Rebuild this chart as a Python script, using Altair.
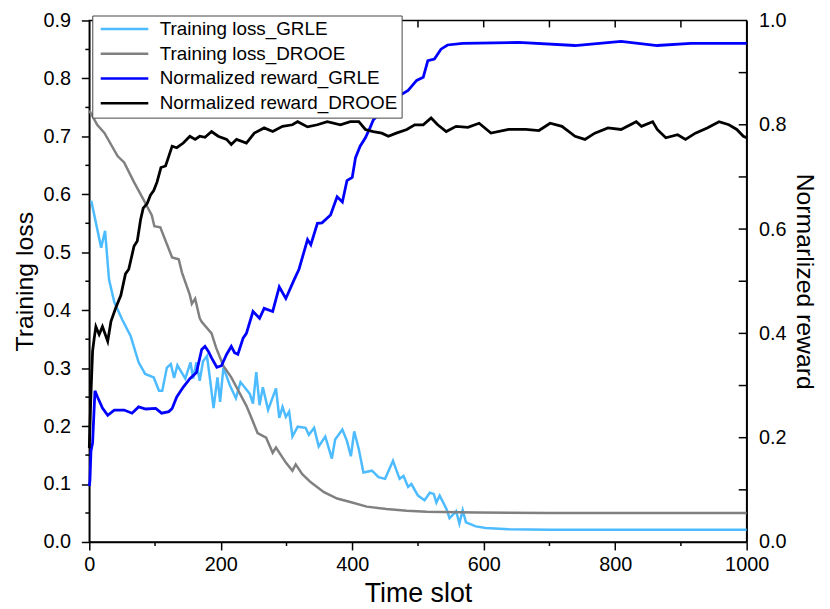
import altair as alt
import pandas as pd

# ---------------- data ----------------
t_loss_grle = [3, 18, 24, 30, 38, 50, 63, 75, 85, 98, 106, 111, 118, 124, 129, 134, 146, 154, 158, 163,
               168, 173, 179, 184, 189, 195, 199, 204, 214, 223, 230, 244, 249, 254, 259, 264, 272, 284,
               289, 294, 299, 304, 309, 317, 329, 334, 342, 349, 359, 369, 374, 385, 392, 398, 403, 410,
               417, 430, 440, 450, 462, 472, 478, 485, 490, 500, 510, 518, 524, 528, 533, 543, 548, 558,
               563, 568, 573, 588, 603, 638, 700, 800, 900, 1000]
loss_grle = [0.589, 0.508, 0.537, 0.453, 0.414, 0.384, 0.355, 0.310, 0.290, 0.284, 0.261, 0.261, 0.301,
             0.307, 0.283, 0.305, 0.282, 0.310, 0.282, 0.310, 0.278, 0.312, 0.321, 0.278, 0.231, 0.284,
             0.242, 0.301, 0.270, 0.248, 0.276, 0.256, 0.239, 0.293, 0.236, 0.267, 0.228, 0.265, 0.214,
             0.233, 0.216, 0.225, 0.182, 0.199, 0.197, 0.185, 0.197, 0.165, 0.182, 0.144, 0.177, 0.194,
             0.174, 0.148, 0.191, 0.160, 0.120, 0.123, 0.112, 0.109, 0.140, 0.109, 0.114, 0.095, 0.100,
             0.080, 0.072, 0.085, 0.083, 0.068, 0.080, 0.058, 0.041, 0.053, 0.032, 0.055, 0.034, 0.027,
             0.024, 0.022, 0.021, 0.021, 0.021, 0.021]

t_loss_drooe = [0, 12, 23, 43, 53, 68, 80, 88, 95, 99, 108, 116, 126, 136, 141, 153, 156, 161, 168, 171,
                186, 193, 204, 216, 224, 239, 246, 256, 269, 279, 284, 299, 309, 314, 324, 337, 357, 377,
                397, 422, 452, 483, 513, 588, 700, 850, 1000]
loss_drooe = [0.745, 0.720, 0.706, 0.666, 0.655, 0.621, 0.596, 0.579, 0.564, 0.545, 0.543, 0.520, 0.491,
              0.488, 0.465, 0.426, 0.411, 0.420, 0.386, 0.380, 0.360, 0.335, 0.304, 0.284, 0.267, 0.235,
              0.216, 0.188, 0.180, 0.154, 0.163, 0.137, 0.123, 0.134, 0.117, 0.103, 0.086, 0.075, 0.069,
              0.061, 0.057, 0.054, 0.052, 0.051, 0.050, 0.050, 0.050]

t_rew_grle = [0, 1, 2.5, 5, 8.6, 12.5, 20, 28, 38, 53, 65, 75, 86, 101, 110, 121, 126, 133, 143, 153, 163,
              171, 176, 181, 186, 194, 201, 209, 216, 221, 226, 234, 239, 249, 259, 266, 279, 289, 299,
              312, 319, 332, 337, 347, 354, 367, 377, 385, 392, 400, 405, 412, 420, 427, 432, 452, 472,
              485, 498, 508, 515, 525, 535, 545, 568, 653, 739, 809, 864, 915, 1000]
rew_grle = [0.107, 0.118, 0.174, 0.190, 0.290, 0.278, 0.257, 0.243, 0.253, 0.253, 0.247, 0.259, 0.255,
            0.256, 0.247, 0.250, 0.256, 0.278, 0.297, 0.313, 0.325, 0.369, 0.375, 0.366, 0.353, 0.335,
            0.338, 0.360, 0.375, 0.363, 0.360, 0.391, 0.400, 0.442, 0.429, 0.448, 0.442, 0.489, 0.467,
            0.504, 0.523, 0.580, 0.570, 0.611, 0.612, 0.627, 0.662, 0.652, 0.693, 0.699, 0.737, 0.759,
            0.775, 0.794, 0.809, 0.835, 0.856, 0.866, 0.885, 0.891, 0.923, 0.926, 0.945, 0.953, 0.956,
            0.958, 0.952, 0.960, 0.952, 0.956, 0.956]

t_rew_drooe = [0, 2.5, 5, 7.5, 10, 15, 20, 28, 33, 40, 48, 55, 60, 68, 73, 78, 82, 88, 93, 98, 103, 109,
               116, 121, 126, 133, 143, 153, 161, 168, 176, 186, 196, 209, 216, 224, 239, 251, 266, 279,
               294, 309, 317, 332, 347, 362, 382, 397, 410, 420, 432, 445, 455, 467, 483, 495, 508, 520,
               530, 543, 558, 576, 593, 611, 638, 664, 684, 701, 719, 739, 754, 769, 789, 809, 832, 840,
               857, 864, 877, 895, 907, 922, 940, 958, 973, 985, 995, 1000]
rew_drooe = [0.180, 0.285, 0.366, 0.391, 0.413, 0.398, 0.413, 0.385, 0.423, 0.448, 0.473, 0.514, 0.523,
             0.567, 0.577, 0.618, 0.640, 0.649, 0.665, 0.674, 0.690, 0.718, 0.721, 0.740, 0.759, 0.756,
             0.765, 0.778, 0.772, 0.778, 0.776, 0.787, 0.778, 0.772, 0.762, 0.772, 0.765, 0.784, 0.794,
             0.787, 0.797, 0.800, 0.806, 0.796, 0.800, 0.806, 0.800, 0.806, 0.806, 0.791, 0.787, 0.784,
             0.778, 0.784, 0.791, 0.800, 0.800, 0.813, 0.800, 0.787, 0.797, 0.795, 0.803, 0.784, 0.791,
             0.791, 0.789, 0.803, 0.797, 0.778, 0.772, 0.784, 0.794, 0.791, 0.806, 0.797, 0.806, 0.791,
             0.775, 0.781, 0.772, 0.784, 0.794, 0.806, 0.800, 0.791, 0.778, 0.775]

series_names = ["Training loss_GRLE", "Training loss_DROOE",
                "Normalized reward_GRLE", "Normalized reward_DROOE"]
series_colors = ["#4DBBFF", "#808080", "#0000FF", "#000000"]

x_ticks = [0, 200, 400, 600, 800, 1000]
x_minor = [100, 300, 500, 700, 900]
x_top = [100, 200, 300, 400, 500, 600, 700, 800, 900]
left_ticks = [0.0, 0.1, 0.2, 0.3, 0.4, 0.5, 0.6, 0.7, 0.8, 0.9]
left_minor = [0.05, 0.15, 0.25, 0.35, 0.45, 0.55, 0.65, 0.75, 0.85]
right_labels = [0.0, 0.2, 0.4, 0.6, 0.8, 1.0]
right_ticks = [0.1, 0.2, 0.3, 0.4, 0.5, 0.6, 0.7, 0.8, 0.9]

# ---------------- tables ----------------
loss_df = pd.concat([
    pd.DataFrame({"t": t_loss_grle, "v": loss_grle, "s": series_names[0]}),
    pd.DataFrame({"t": t_loss_drooe, "v": loss_drooe, "s": series_names[1]}),
])
rew_df = pd.concat([
    pd.DataFrame({"t": t_rew_grle, "v": rew_grle, "s": series_names[2]}),
    pd.DataFrame({"t": t_rew_drooe, "v": rew_drooe, "s": series_names[3]}),
])

W, H = 663, 526
FONT = "Liberation Sans"

x_scale = alt.Scale(domain=[0, 1000], nice=False)
left_scale = alt.Scale(domain=[0, 0.9], nice=False)
right_scale = alt.Scale(domain=[0, 1.0], nice=False)

legend = alt.Legend(
    title=None, orient="none", legendX=3, legendY=-5,
    fillColor="white", strokeColor="#444", padding=4,
    labelFont=FONT, labelFontSize=19, labelColor="black", labelLimit=400,
    symbolType="M-1,0H8.6", symbolSize=100, symbolStrokeWidth=2.5,
    labelOffset=45, rowPadding=5,
)
color_enc = alt.Color("s:N", scale=alt.Scale(domain=series_names, range=series_colors),
                      legend=legend, sort=series_names)

common_axis = dict(labelFontSize=20, domainWidth=1.5, domainColor="black",
                   tickColor="black", labelColor="black", titleColor="black",
                   titleFontWeight="normal", labelFont=FONT, titleFont=FONT, grid=False,
                   labelFlush=False, labelOverlap=False)

x_axis = alt.Axis(values=x_ticks, format="d", title="Time slot", tickSize=8, tickWidth=1.5,
                  labelPadding=5, titlePadding=6, titleFontSize=27, orient="bottom",
                  **common_axis)

loss_lines = alt.Chart(loss_df).mark_line(strokeWidth=2.5).encode(
    x=alt.X("t:Q", scale=x_scale, axis=x_axis),
    y=alt.Y("v:Q", scale=left_scale,
            axis=alt.Axis(values=left_ticks, format=".1f", title="Training loss", orient="left",
                          tickSize=8, tickWidth=1.5, labelPadding=11, titlePadding=5,
                          titleFontSize=25, **common_axis)),
    color=color_enc,
)

rew_lines = alt.Chart(rew_df).mark_line(strokeWidth=2.8).encode(
    x=alt.X("t:Q", scale=x_scale, axis=x_axis),
    y=alt.Y("v:Q", scale=right_scale,
            axis=alt.Axis(values=right_labels, format=".1f", title="Normarlized reward",
                          orient="right", ticks=False, labelPadding=12, titlePadding=5,
                          titleFontSize=25, **common_axis)),
    color=color_enc,
)

left_minor_layer = alt.Chart(pd.DataFrame({"v": left_minor})).mark_rule(
    color="black", strokeWidth=1.5).encode(
    y=alt.Y("v:Q", scale=left_scale, axis=None),
    x=alt.value(-4), x2=alt.value(0))

right_tick_layer = alt.Chart(pd.DataFrame({"v": right_ticks})).mark_rule(
    color="black", strokeWidth=1.5).encode(
    y=alt.Y("v:Q", scale=right_scale, axis=None),
    x=alt.value(W - 8), x2=alt.value(W))

bottom_minor_layer = alt.Chart(pd.DataFrame({"t": x_minor})).mark_rule(
    color="black", strokeWidth=1.5).encode(
    x=alt.X("t:Q", scale=x_scale, axis=x_axis),
    y=alt.value(H), y2=alt.value(H + 4))

top_layer = alt.Chart(pd.DataFrame({"t": x_top})).mark_rule(
    color="black", strokeWidth=1.5).encode(
    x=alt.X("t:Q", scale=x_scale, axis=x_axis),
    y=alt.value(0), y2=alt.value(7))

chart = alt.layer(
    loss_lines, rew_lines, left_minor_layer, right_tick_layer, bottom_minor_layer, top_layer
).resolve_scale(y="independent").properties(
    width=W, height=H,
    autosize=alt.AutoSizeParams(type="none"),
    padding={"left": 82, "top": 10, "right": 76, "bottom": 65},
).configure(font=FONT, background="white").configure_view(stroke="black", strokeWidth=1.5)

chart.save("out.html", embed_options={"renderer": "svg", "actions": False})
